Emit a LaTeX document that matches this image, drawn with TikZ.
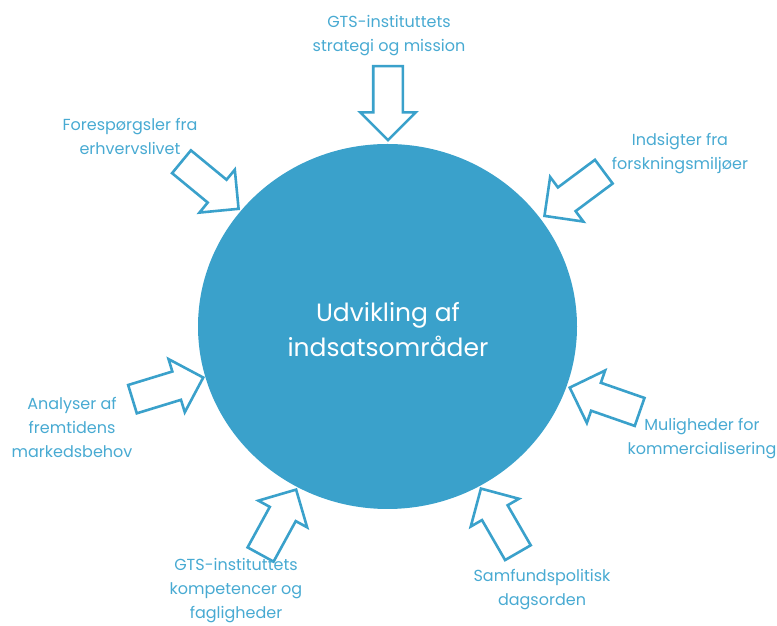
\documentclass[tikz,border=0pt]{standalone}
\usepackage{fontspec}
\setmainfont{Poppins}
\usetikzlibrary{shapes.geometric,shapes.arrows}
\definecolor{coreblue}{RGB}{58,161,203}
\definecolor{labelblue}{RGB}{72,170,210}
\begin{document}
\begin{tikzpicture}
[x=0.5pt, y=0.5pt,
 inarrow/.style={single arrow, draw=coreblue, fill=white, line width=1.3pt,
   minimum height=37pt, inner xsep=0pt, inner ysep=6.75pt,
   single arrow head extend=6.5pt, single arrow tip angle=90, anchor=tip},
 lbl/.style={text=labelblue, align=center, font=\fontsize{8}{12}\selectfont}]
\useasboundingbox (0,0) rectangle (777,626);
\node [ellipse, fill=coreblue, minimum width=189.5pt, minimum height=182.5pt, inner sep=0pt] (core) at (387.5,299.5) {};
\node [text=white, align=center, font=\fontsize{12.5}{17.5}\selectfont] (coretext) at (388,296) {Udvikling af\\indsatsområder};
% arrows pointing in to the circle
\node [inarrow, rotate=-90] (amission) at (388,484) {};
\node [inarrow, rotate=-39.5] (aerhverv) at (240,416) {};
\node [inarrow, rotate=216.7] (aforskning) at (543,409) {};
\node [inarrow, rotate=17] (amarked) at (205,249) {};
\node [inarrow, rotate=160.8] (akommerciel) at (568,239) {};
\node [inarrow, rotate=61.3] (akompetence) at (297,138) {};
\node [inarrow, rotate=120] (asamfund) at (480,139) {};
% labels
\node [lbl] (lmission) at (389,590) {GTS-instituttets\\strategi og mission};
\node [lbl] (lerhverv) at (130,490) {Forespørgsler fra\\erhvervslivet};
\node [lbl] (lforskning) at (680,472) {Indsigter fra\\forskningsmiljøer};
\node [lbl] (lmarked) at (72,199) {Analyser af\\fremtidens\\markedsbehov};
\node [lbl] (lkommerciel) at (702,187) {Muligheder for\\kommercialisering};
\node [lbl] (lkompetence) at (236,35) {GTS-instituttets\\kompetencer og\\fagligheder};
\node [lbl] (lsamfund) at (542,36) {Samfundspolitisk\\dagsorden};
\end{tikzpicture}
\end{document}
